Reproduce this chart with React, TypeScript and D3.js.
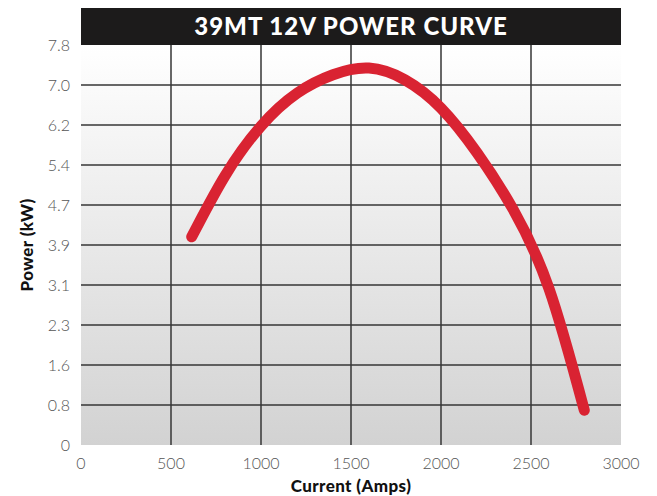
import * as d3 from 'd3';

const W = 657;
const H = 496;

// Curve: current (A) vs power (kW)
const currentAmps = [615, 800, 1000, 1200, 1400, 1600, 1800, 2000, 2200, 2400, 2600, 2796];
const powerKw = [4.06, 5.25, 6.22, 6.86, 7.22, 7.35, 7.12, 6.57, 5.7, 4.6, 3.05, 0.68];

const xTicks = [0, 500, 1000, 1500, 2000, 2500, 3000];
const yTickValues = [0, 0.78, 1.56, 2.34, 3.12, 3.9, 4.68, 5.46, 6.24, 7.02, 7.8];
const yTickLabels = ['0', '0.8', '1.6', '2.3', '3.1', '3.9', '4.7', '5.4', '6.2', '7.0', '7.8'];

const titleText = '39MT 12V POWER CURVE';

export default function App() {
  const margin = { left: 81, right: W - 621, top: 45, bottom: H - 445 };

  const x = d3.scaleLinear().domain([0, 3000]).range([margin.left, W - margin.right]);
  const y = d3.scaleLinear().domain([0, 7.8]).range([H - margin.bottom, margin.top]);

  const points: [number, number][] = currentAmps.map((c, i) => [c, powerKw[i]]);
  const line = d3
    .line<[number, number]>()
    .x((d) => x(d[0]))
    .y((d) => y(d[1]))
    .curve(d3.curveNatural);

  const tickFont = 'Lato, "DejaVu Sans", sans-serif';
  const boldFont = 'Lato, "DejaVu Sans", sans-serif';

  return (
    <svg
      width={W}
      height={H}
      style={{ position: 'absolute', left: 0, top: 0, background: '#fff' }}
    >
      <defs>
        <linearGradient id="plot-bg" x1="0" y1="0" x2="0" y2="1">
          <stop offset="0%" stopColor="#ffffff" />
          <stop offset="100%" stopColor="#d2d2d2" />
        </linearGradient>
      </defs>

      {/* plot background */}
      <rect
        x={x(0)}
        y={y(7.8)}
        width={x(3000) - x(0)}
        height={y(0) - y(7.8)}
        fill="url(#plot-bg)"
      />

      {/* horizontal grid */}
      {yTickValues.slice(1, -1).map((v) => (
        <line
          key={'h' + v}
          x1={x(0)}
          x2={x(3000)}
          y1={y(v)}
          y2={y(v)}
          stroke="#363636"
          strokeWidth={1.5}
        />
      ))}

      {/* vertical grid */}
      {xTicks.slice(1, -1).map((v) => (
        <line
          key={'v' + v}
          x1={x(v)}
          x2={x(v)}
          y1={y(7.8)}
          y2={y(0)}
          stroke="#363636"
          strokeWidth={1.5}
        />
      ))}

      {/* title bar */}
      <rect x={x(0)} y={8} width={x(3000) - x(0)} height={y(7.8) - 8} fill="#1c1b1b" />
      <text
        x={(x(0) + x(3000)) / 2}
        y={35}
        textAnchor="middle"
        fill="#fff"
        fontFamily={boldFont}
        fontWeight={900}
        fontSize={24}
        letterSpacing={1}
      >
        {titleText}
      </text>

      {/* curve */}
      <path
        d={line(points) ?? ''}
        fill="none"
        stroke="#d92332"
        strokeWidth={11}
        strokeLinecap="round"
        strokeLinejoin="round"
      />

      {/* y tick labels */}
      {yTickValues.map((v, i) => (
        <text
          key={'yl' + v}
          x={70}
          y={y(v) + 5.5}
          textAnchor="end"
          fill="#555"
          fontFamily={tickFont}
          fontWeight={300}
          fontSize={16}
        >
          {yTickLabels[i]}
        </text>
      ))}

      {/* x tick labels */}
      {xTicks.map((v) => (
        <text
          key={'xl' + v}
          x={x(v)}
          y={469}
          textAnchor="middle"
          fill="#555"
          fontFamily={tickFont}
          fontWeight={300}
          fontSize={16}
        >
          {v}
        </text>
      ))}

      {/* axis titles */}
      <text
        x={(x(0) + x(3000)) / 2}
        y={492}
        textAnchor="middle"
        fill="#111"
        fontFamily={boldFont}
        fontWeight={900}
        fontSize={17}
        letterSpacing={0.4}
      >
        Current (Amps)
      </text>
      <text
        transform={`translate(33, ${(y(0) + y(7.8)) / 2}) rotate(-90)`}
        textAnchor="middle"
        fill="#111"
        fontFamily={boldFont}
        fontWeight={900}
        fontSize={17}
        letterSpacing={0.4}
      >
        Power (kW)
      </text>
    </svg>
  );
}
